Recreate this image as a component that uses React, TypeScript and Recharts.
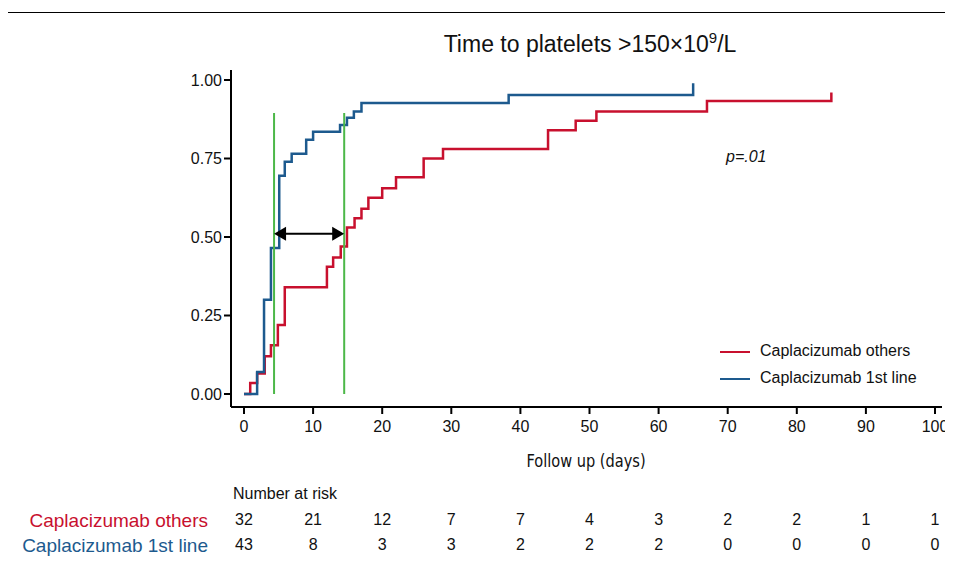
import React from 'react';
import { LineChart, Line, XAxis, YAxis, ReferenceLine, ReferenceDot } from 'recharts';

const firstLineX = [0, 1.9, 2.9, 3.9, 5.1, 5.9, 6.9, 9, 10, 13.9, 14.9, 15.9, 17, 38.3, 65, 65];
const firstLineY = [0, 0.07, 0.30, 0.465, 0.695, 0.74, 0.765, 0.81, 0.835, 0.857, 0.88, 0.90, 0.927, 0.952, 0.952, 0.99];
const othersX = [0, 0.9, 1.9, 3, 3.9, 4.9, 5.9, 12, 12.9, 14, 14.9, 16, 17, 18, 20, 22, 26, 28.8, 44, 48, 51, 67, 85, 85];
const othersY = [0, 0.035, 0.065, 0.12, 0.155, 0.22, 0.34, 0.405, 0.435, 0.47, 0.53, 0.56, 0.59, 0.625, 0.655, 0.69, 0.75, 0.78, 0.84, 0.87, 0.90, 0.933, 0.933, 0.96];
const xTicks = [0, 10, 20, 30, 40, 50, 60, 70, 80, 90, 100];
const yTicks = [0, 0.25, 0.5, 0.75, 1];
const atRiskOthers = [32, 21, 12, 7, 7, 4, 3, 2, 2, 1, 1];
const atRiskFirst = [43, 8, 3, 3, 2, 2, 2, 0, 0, 0, 0];
const medianFirst = 4.35;
const medianOthers = 14.5;

const RED = '#c8102e';
const BLUE = '#1d5a8e';
const GREEN = '#4cb848';
const FONT = '"Liberation Sans", Arial, sans-serif';

const firstData = firstLineX.map((x, i) => ({ x, y: firstLineY[i] }));
const othersData = othersX.map((x, i) => ({ x, y: othersY[i] }));

const XTick = (props: any) => {
  const { x, y, payload, index } = props;
  return (
    <g>
      <text x={x} y={y + 16} textAnchor="middle" fontSize={16} fill="#111" fontFamily={FONT}>{payload.value}</text>
      <text x={x} y={y + 109} textAnchor="middle" fontSize={16} fill="#111" fontFamily={FONT}>{atRiskOthers[index]}</text>
      <text x={x} y={y + 134} textAnchor="middle" fontSize={16} fill="#111" fontFamily={FONT}>{atRiskFirst[index]}</text>
    </g>
  );
};

const Tri = (dir: number) => (props: any) => {
  const { cx, cy } = props;
  const p = dir < 0
    ? `${cx},${cy} ${cx + 12},${cy - 7} ${cx + 12},${cy + 7}`
    : `${cx},${cy} ${cx - 12},${cy - 7} ${cx - 12},${cy + 7}`;
  return <polygon points={p} fill="#000" />;
};

export default function App() {
  return (
    <div style={{ position: 'relative', width: 945, height: 556, fontFamily: FONT }}>
      <div style={{ position: 'absolute', left: -8, top: 4, width: 952, height: 560, borderTop: '1px solid #000', borderRight: '1px solid #000' }} />
      <div style={{ position: 'absolute', left: 0, top: 21, width: 1164, textAlign: 'center', fontSize: 23, color: '#111' }}>
        Time to platelets &gt;150×10<sup style={{ fontSize: 15 }}>9</sup>/L
      </div>
      <LineChart width={945} height={556} margin={{ top: 62, right: 11, bottom: 127, left: 0 }}>
        <XAxis type="number" dataKey="x" domain={[0, 100]} ticks={xTicks} padding={{ left: 13, right: 7 }}
          stroke="#000" strokeWidth={2} tickSize={7} tick={<XTick />} interval={0} allowDataOverflow />
        <YAxis type="number" dataKey="y" domain={[0, 1]} ticks={yTicks} width={223} padding={{ top: 10, bottom: 13 }}
          stroke="#000" strokeWidth={2} tickSize={7} tickFormatter={(v: number) => v.toFixed(2)}
          tick={{ fontSize: 16, fill: '#111', fontFamily: FONT }} />
        <Line data={othersData} dataKey="y" type="stepAfter" stroke={RED} strokeWidth={2.5} dot={false} isAnimationActive={false} />
        <Line data={firstData} dataKey="y" type="stepAfter" stroke={BLUE} strokeWidth={2.5} dot={false} isAnimationActive={false} />
        <ReferenceLine segment={[{ x: medianFirst, y: 0 }, { x: medianFirst, y: 0.895 }]} stroke={GREEN} strokeWidth={2} />
        <ReferenceLine segment={[{ x: medianOthers, y: 0 }, { x: medianOthers, y: 0.895 }]} stroke={GREEN} strokeWidth={2} />
        <ReferenceLine segment={[{ x: medianFirst + 1, y: 0.51 }, { x: medianOthers - 1, y: 0.51 }]} stroke="#000" strokeWidth={2} />
        <ReferenceDot x={medianFirst} y={0.51} r={5} shape={Tri(-1)} />
        <ReferenceDot x={medianOthers} y={0.51} r={5} shape={Tri(1)} />
      </LineChart>
      <div style={{ position: 'absolute', left: 718, top: 140, fontSize: 16, fontStyle: 'italic', color: '#111' }}>p=.01</div>
      <div style={{ position: 'absolute', left: 712, top: 329, fontSize: 16, color: '#111', lineHeight: '27px' }}>
        <div><span style={{ display: 'inline-block', width: 30, height: 2.5, background: RED, verticalAlign: 'middle', marginRight: 10 }} />Caplacizumab others</div>
        <div><span style={{ display: 'inline-block', width: 30, height: 2.5, background: BLUE, verticalAlign: 'middle', marginRight: 10 }} />Caplacizumab 1st line</div>
      </div>
      <div style={{ position: 'absolute', left: 0, top: 442, width: 1156, textAlign: 'center', fontSize: 18, fontFamily: '"Liberation Sans Narrow", "DejaVu Sans Condensed", sans-serif', color: '#111', transform: 'scaleX(0.9)' }}>Follow up (days)</div>
      <div style={{ position: 'absolute', left: 225, top: 477, fontSize: 16, color: '#111' }}>Number at risk</div>
      <div style={{ position: 'absolute', right: 745, top: 502, fontSize: 19, color: RED, whiteSpace: 'nowrap' }}>Caplacizumab others</div>
      <div style={{ position: 'absolute', right: 745, top: 527, fontSize: 19, color: BLUE, whiteSpace: 'nowrap' }}>Caplacizumab 1st line</div>
    </div>
  );
}
